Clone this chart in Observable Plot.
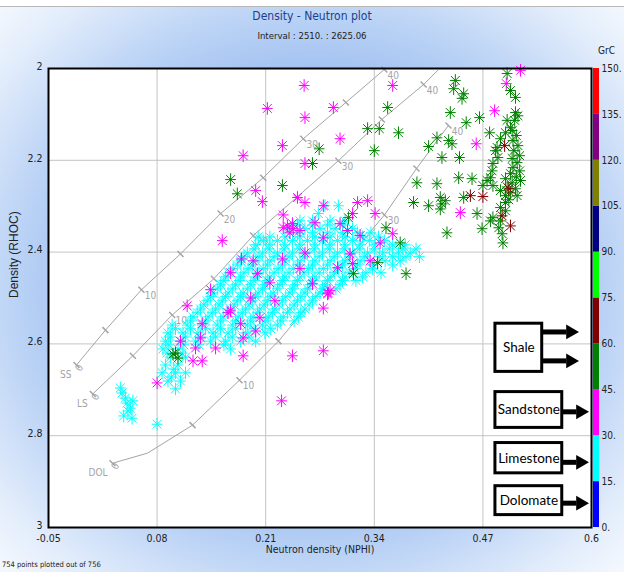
<!DOCTYPE html>
<html><head><meta charset="utf-8">
<script src="https://cdn.jsdelivr.net/npm/d3@7"></script>
<script src="https://cdn.jsdelivr.net/npm/@observablehq/plot@0.6"></script>
<style>
html,body{margin:0;padding:0;}
body{width:624px;height:572px;overflow:hidden;
 font-family:"Liberation Sans Narrow","DejaVu Sans Condensed","Liberation Sans",sans-serif;
 background: radial-gradient(ellipse at 50% 50%, #8fb3ee 0%, #9fbff1 50%, #b8d1f5 66%, #e0ebfb 86%, #f5f9fe 100%);}
#page{position:relative;width:624px;height:572px;}
.abs{position:absolute;white-space:nowrap;}
</style></head><body>
<div id="page">
 <div class="abs" style="left:0;top:0;width:624px;height:6px;background:#fff;border-bottom:1px solid #b8b8b8"></div>
 <div class="abs" style="left:0;width:624px;top:9px;text-align:center;font-size:12px;color:#1b3f8f">Density - Neutron plot</div>
 <div class="abs" style="left:0;width:624px;top:30px;text-align:center;font-size:9.5px;color:#222">Interval : 2510. : 2625.06</div>
 <div class="abs" style="left:598px;top:45px;font-size:10px;color:#222">GrC</div>
 <div id="main" class="abs" style="left:0;top:0"></div>
 <div id="bar" class="abs" style="left:590px;top:0"></div>
 <div class="abs" style="left:2px;top:560px;font-size:7.5px;color:#222">754 points plotted out of 756</div>
</div>
<script>
const FONT = '"Liberation Sans Narrow","DejaVu Sans Condensed","Liberation Sans",sans-serif';

// axes
const nphiTicks = [-0.05, 0.08, 0.21, 0.34, 0.47, 0.6];
const nphiTickLabels = ["-0.05", "0.08", "0.21", "0.34", "0.47", "0.6"];
const rhocTicks = [2, 2.2, 2.4, 2.6, 2.8, 3];
const rhocTickLabels = ["2", "2.2", "2.4", "2.6", "2.8", "3"];

// GrC colour bar
const grcBreaks = [0, 15, 30, 45, 60, 75, 90, 105, 120, 135, 150];
const grcColors = ["#0000ff", "#00ffff", "#ff00ff", "#008000", "#800000",
                   "#00ff00", "#000080", "#808000", "#800080", "#ff0000"];

// points [NPHI, RHOC] grouped by GrC band
const grc15to30 = [
 [0.281,2.299],[0.297,2.299],[0.273,2.316],
 [0.251,2.332],[0.266,2.332],[0.287,2.332],[0.305,2.332],
 [0.239,2.349],[0.257,2.349],[0.275,2.349],[0.293,2.349],[0.314,2.349],
 [0.201,2.367],[0.215,2.367],[0.233,2.367],[0.251,2.367],[0.269,2.367],[0.287,2.367],[0.305,2.367],[0.326,2.367],[0.345,2.367],
 [0.198,2.384],[0.215,2.384],[0.233,2.384],[0.251,2.384],[0.269,2.384],[0.287,2.384],[0.305,2.384],[0.323,2.384],[0.341,2.384],[0.362,2.384],[0.377,2.384],
 [0.188,2.402],[0.206,2.402],[0.224,2.402],[0.242,2.402],[0.260,2.402],[0.278,2.402],[0.296,2.402],[0.314,2.402],[0.332,2.402],[0.350,2.402],[0.369,2.402],[0.383,2.402],
 [0.180,2.419],[0.198,2.419],[0.215,2.419],[0.233,2.419],[0.251,2.419],[0.269,2.419],[0.287,2.419],[0.305,2.419],[0.323,2.419],[0.353,2.419],[0.371,2.419],
 [0.171,2.436],[0.189,2.436],[0.207,2.436],[0.225,2.436],[0.243,2.436],[0.261,2.436],[0.279,2.436],[0.297,2.436],[0.317,2.436],[0.338,2.436],
 [0.162,2.454],[0.180,2.454],[0.198,2.454],[0.215,2.454],[0.233,2.454],[0.251,2.454],[0.269,2.454],[0.287,2.454],[0.305,2.454],[0.326,2.454],
 [0.156,2.471],[0.174,2.471],[0.192,2.471],[0.209,2.471],[0.227,2.471],[0.245,2.471],[0.263,2.471],[0.281,2.471],[0.299,2.471],
 [0.147,2.489],[0.165,2.489],[0.183,2.489],[0.201,2.489],[0.219,2.489],[0.239,2.489],[0.257,2.489],[0.275,2.489],
 [0.140,2.506],[0.158,2.506],[0.176,2.506],[0.194,2.506],[0.212,2.506],[0.230,2.506],[0.248,2.506],[0.266,2.506],
 [0.132,2.524],[0.150,2.524],[0.168,2.524],[0.186,2.524],[0.203,2.524],[0.221,2.524],[0.239,2.524],[0.257,2.524],
 [0.123,2.541],[0.141,2.541],[0.159,2.541],[0.177,2.541],[0.195,2.541],[0.213,2.541],[0.231,2.541],[0.249,2.541],
 [0.098,2.559],[0.116,2.559],[0.134,2.559],[0.152,2.559],[0.170,2.559],[0.188,2.559],[0.206,2.559],[0.224,2.559],
 [0.093,2.576],[0.111,2.576],[0.129,2.576],[0.147,2.576],[0.165,2.576],[0.186,2.576],[0.209,2.576],
 [0.090,2.594],[0.108,2.594],[0.126,2.594],[0.144,2.594],[0.162,2.594],[0.180,2.594],[0.198,2.594],
 [0.087,2.611],[0.105,2.611],[0.168,2.611],
 [0.096,2.629],[0.114,2.629],[0.090,2.646],[0.105,2.646],
 [0.086,2.663],[0.102,2.663],[0.114,2.663],[0.093,2.681],[0.108,2.681],[0.102,2.698],
 [0.036,2.696],[0.038,2.707],[0.042,2.718],[0.044,2.729],[0.048,2.740],[0.040,2.757],[0.050,2.762],[0.045,2.746],[0.051,2.724],[0.080,2.775],
 // denser core of the cluster
 [0.248,2.341],[0.266,2.341],[0.284,2.341],[0.302,2.341],
 [0.248,2.358],[0.266,2.358],[0.284,2.358],[0.302,2.358],[0.320,2.358],[0.336,2.358],
 [0.207,2.375],[0.224,2.375],[0.242,2.375],[0.260,2.375],[0.278,2.375],[0.296,2.375],[0.314,2.375],[0.334,2.375],[0.352,2.375],
 [0.196,2.393],[0.214,2.393],[0.232,2.393],[0.250,2.393],[0.268,2.393],[0.286,2.393],[0.304,2.393],[0.322,2.393],[0.340,2.393],[0.358,2.393],[0.374,2.393],[0.390,2.393],
 [0.184,2.410],[0.202,2.410],[0.220,2.410],[0.238,2.410],[0.256,2.410],[0.274,2.410],[0.292,2.410],[0.310,2.410],[0.328,2.410],[0.346,2.410],[0.362,2.410],[0.378,2.410],[0.394,2.410],
 [0.176,2.428],[0.194,2.428],[0.212,2.428],[0.230,2.428],[0.248,2.428],[0.266,2.428],[0.284,2.428],[0.302,2.428],[0.320,2.428],[0.338,2.428],[0.362,2.428],
 [0.166,2.445],[0.184,2.445],[0.202,2.445],[0.220,2.445],[0.238,2.445],[0.256,2.445],[0.274,2.445],[0.292,2.445],[0.310,2.445],[0.330,2.445],[0.348,2.445],
 [0.160,2.462],[0.178,2.462],[0.196,2.462],[0.212,2.462],[0.230,2.462],[0.248,2.462],[0.266,2.462],[0.284,2.462],[0.302,2.462],[0.318,2.462],
 [0.152,2.480],[0.170,2.480],[0.188,2.480],[0.206,2.480],[0.224,2.480],[0.242,2.480],[0.260,2.480],[0.278,2.480],[0.294,2.480],
 [0.144,2.497],[0.162,2.497],[0.180,2.497],[0.198,2.497],[0.216,2.497],[0.234,2.497],[0.252,2.497],[0.270,2.497],
 [0.136,2.515],[0.154,2.515],[0.172,2.515],[0.190,2.515],[0.208,2.515],[0.226,2.515],[0.244,2.515],[0.262,2.515],
 [0.128,2.532],[0.146,2.532],[0.164,2.532],[0.182,2.532],[0.200,2.532],[0.218,2.532],[0.236,2.532],[0.252,2.532],
 [0.120,2.550],[0.138,2.550],[0.156,2.550],[0.174,2.550],[0.192,2.550],[0.210,2.550],[0.228,2.550],[0.244,2.550],
 [0.102,2.567],[0.120,2.567],[0.138,2.567],[0.156,2.567],[0.174,2.567],[0.196,2.567],[0.216,2.567],
 [0.096,2.585],[0.114,2.585],[0.132,2.585],[0.150,2.585],[0.170,2.585],[0.190,2.585],
 [0.094,2.602],[0.112,2.602],[0.130,2.602],[0.160,2.602],
 [0.092,2.620],[0.110,2.620],[0.100,2.655],[0.097,2.672]
];
const grc30to45 = [
 [0.256,2.037],[0.212,2.087],[0.257,2.107],[0.291,2.085],[0.230,2.168],[0.183,2.190],[0.257,2.207],[0.198,2.266],
 [0.206,2.290],[0.248,2.281],[0.257,2.292],[0.279,2.299],[0.231,2.319],[0.158,2.375],[0.181,2.415],[0.144,2.482],
 [0.236,2.343],[0.239,2.358],[0.243,2.349],[0.251,2.353],[0.299,2.153],[0.362,2.037],[0.515,2.004],[0.498,2.033],
 [0.484,2.092],[0.462,2.164],[0.443,2.314],[0.320,2.292],[0.332,2.288],[0.341,2.316],[0.362,2.360],[0.347,2.380],
 [0.335,2.419],[0.285,2.489],[0.314,2.316],[0.269,2.336],[0.299,2.338],[0.308,2.353],[0.323,2.364],[0.279,2.369],
 [0.311,2.404],[0.296,2.434],[0.314,2.425],[0.257,2.402],[0.287,2.484],[0.242,2.338],[0.195,2.419],[0.230,2.415],
 [0.200,2.447],[0.116,2.517],[0.192,2.500],[0.168,2.528],[0.203,2.543],[0.165,2.532],[0.180,2.556],[0.198,2.572],
 [0.183,2.587],[0.150,2.609],[0.123,2.637],[0.134,2.637],[0.183,2.626],[0.242,2.626],[0.279,2.615],[0.229,2.724],
 [0.080,2.685],[0.279,2.522],[0.284,2.491],[0.134,2.556],[0.126,2.609],[0.108,2.594],[0.132,2.587],[0.231,2.347],
 [0.215,2.467],[0.251,2.436],[0.266,2.469],[0.168,2.445],[0.221,2.506]
];
const grc45to60 = [
 [0.274,2.175],[0.266,2.207],[0.168,2.242],[0.176,2.273],[0.230,2.255],[0.356,2.085],[0.332,2.131],[0.346,2.131],
 [0.369,2.140],[0.340,2.179],[0.437,2.026],[0.435,2.044],[0.447,2.055],[0.445,2.065],[0.431,2.096],[0.450,2.118],
 [0.466,2.107],[0.415,2.151],[0.405,2.170],[0.429,2.157],[0.433,2.164],[0.421,2.194],[0.442,2.194],[0.478,2.140],
 [0.391,2.249],[0.415,2.251],[0.441,2.238],[0.457,2.240],[0.387,2.292],[0.405,2.299],[0.419,2.281],[0.421,2.295],
 [0.419,2.306],[0.447,2.281],[0.463,2.316],[0.427,2.358],[0.469,2.349],[0.354,2.347],[0.371,2.380],[0.378,2.447],
 [0.315,2.447],[0.309,2.325],[0.344,2.423],[0.425,2.288],[0.099,2.622],[0.105,2.631],[0.102,2.620],
 [0.499,2.011],[0.503,2.048],[0.509,2.063],[0.509,2.096],[0.499,2.113],[0.503,2.129],[0.497,2.140],[0.491,2.153],
 [0.487,2.172],[0.485,2.179],[0.488,2.194],[0.482,2.207],[0.481,2.223],[0.479,2.238],[0.475,2.244],[0.470,2.255],
 [0.482,2.255],[0.505,2.135],[0.510,2.146],[0.506,2.157],[0.512,2.168],[0.507,2.179],[0.514,2.190],[0.505,2.196],
 [0.511,2.205],[0.506,2.216],[0.514,2.223],[0.503,2.229],[0.510,2.236],[0.515,2.244],[0.505,2.249],[0.499,2.258],
 [0.509,2.262],[0.503,2.271],[0.497,2.277],[0.511,2.277],[0.501,2.286],[0.508,2.113],[0.512,2.103],[0.497,2.240],
 [0.491,2.266],[0.497,2.292],[0.491,2.303],[0.491,2.332],[0.489,2.347],[0.479,2.332],[0.482,2.325],[0.493,2.360],
 [0.494,2.380],[0.497,2.310]
];
const grc60to75 = [
 [0.496,2.168],[0.470,2.279],[0.501,2.262],[0.493,2.321],[0.503,2.343],[0.455,2.277]
];
const bandGrc = {grc15to30: 22, grc30to45: 37, grc45to60: 52, grc60to75: 67};

// porosity overlay lines [NPHI, RHOC, porosity %]
const ssLine = [[-0.0165,2.646,0],[0.0182,2.570,5],[0.0613,2.482,10],[0.108,2.404,15],[0.156,2.316,20],
                [0.207,2.238,25],[0.255,2.153,30],[0.306,2.074,35],[0.352,2.002,40]];
const lsLine = [[0.003,2.709,0],[0.051,2.626,5],[0.098,2.537,10],[0.148,2.458,15],[0.195,2.364,20],
                [0.247,2.281,25],[0.297,2.201,30],[0.349,2.111,35],[0.399,2.035,40],[0.416,2.004,null]];
const dolLine = [[0.0266,2.860,0],[0.0685,2.838,null],[0.1224,2.777,5],[0.1786,2.679,10],[0.2253,2.594,15],
                 [0.3522,2.319,30],[0.3905,2.218,35],[0.4288,2.124,40]];

// annotation boxes and arrows
const lithoLabels = ["Shale", "Sandstone", "Limestone", "Dolomate"];
const lithoBoxX = [[0.485,0.541],[0.485,0.565],[0.485,0.565],[0.485,0.565]];
const lithoBoxY = [[2.556,2.661],[2.705,2.783],[2.816,2.882],[2.910,2.973]];
const arrowY = [2.574, 2.637, 2.748, 2.858, 2.947];
const arrowX = [[0.541,0.570],[0.541,0.570],[0.565,0.582],[0.565,0.582],[0.565,0.582]];

// ---------- build tables ----------
const points = [];
for (const [name, arr] of [["grc15to30",grc15to30],["grc30to45",grc30to45],["grc45to60",grc45to60],["grc60to75",grc60to75]])
  for (const [nphi, rhoc] of arr) points.push({nphi, rhoc, grc: bandGrc[name]});

const porosity = [];
for (const [lith, arr] of [["SS",ssLine],["LS",lsLine],["DOL",dolLine]])
  for (const [nphi, rhoc, por] of arr) porosity.push({lith, nphi, rhoc, por});

const boxes = lithoLabels.map((label,i) => ({label, x1: lithoBoxX[i][0], x2: lithoBoxX[i][1], y1: lithoBoxY[i][0], y2: lithoBoxY[i][1]}));
const arrows = arrowY.map((y,i) => ({y, x1: arrowX[i][0], x2: arrowX[i][1]}));

const nphiLabel = new Map(nphiTicks.map((t,i) => [t, nphiTickLabels[i]]));
const rhocLabel = new Map(rhocTicks.map((t,i) => [t, rhocTickLabels[i]]));

const colorScale = {type: "threshold", domain: grcBreaks.slice(1, -1), range: grcColors};

const asterisk = {draw(ctx, size) {
  const r = Math.sqrt(size / Math.PI), h = r * 0.85, d = r * 0.7;
  ctx.moveTo(0, -r); ctx.lineTo(0, r);
  ctx.moveTo(-h, 0); ctx.lineTo(h, 0);
  ctx.moveTo(-d, -d); ctx.lineTo(d, d);
  ctx.moveTo(-d, d); ctx.lineTo(d, -d);
}};
const porTick = {draw(ctx) { ctx.moveTo(-3, -3); ctx.lineTo(3, 3); }};
const GRAY = "#a4a4a4";

const chart = Plot.plot({
  width: 624, height: 572,
  marginTop: 68, marginRight: 33, marginBottom: 45, marginLeft: 48,
  style: {background: "transparent", fontFamily: FONT, fontSize: "11px", color: "#222", overflow: "visible"},
  x: {domain: [-0.05, 0.6]},
  y: {domain: [2, 3], reverse: true},
  color: colorScale,
  marks: [
    Plot.frame({fill: "white", stroke: "none"}),
    Plot.gridX(nphiTicks.slice(1, -1), {stroke: "#c4c4c4", strokeOpacity: 1}),
    Plot.gridY(rhocTicks.slice(1, -1), {stroke: "#c4c4c4", strokeOpacity: 1}),
    Plot.line(porosity, {x: "nphi", y: "rhoc", z: "lith", stroke: GRAY, strokeWidth: 1}),
    Plot.dot(porosity.filter(d => d.por != null), {x: "nphi", y: "rhoc", symbol: porTick, r: 3, stroke: GRAY, fill: "none"}),
    Plot.text(porosity.filter(d => d.por > 0 && d.por % 10 === 0), {x: "nphi", y: "rhoc", text: d => String(d.por), dx: 9, dy: 6, fill: GRAY, fontSize: 10}),
    Plot.text(porosity.filter(d => d.por === 0), {x: "nphi", y: "rhoc", text: () => "0", dx: 3, dy: 3, rotate: -60, fill: GRAY, fontSize: 10}),
    Plot.text(porosity.filter(d => d.por === 0), {x: "nphi", y: "rhoc", text: "lith", dx: -5, dy: 10, textAnchor: "end", fill: GRAY, fontSize: 10}),
    Plot.dot(points, {x: "nphi", y: "rhoc", stroke: "grc", symbol: asterisk, r: 6.3, strokeWidth: 1, fill: "none"}),
    Plot.rect(boxes, {x1: "x1", x2: "x2", y1: "y1", y2: "y2", fill: "white", stroke: "black", strokeWidth: 3}),
    Plot.text(boxes, {x: d => (d.x1 + d.x2) / 2, y: d => (d.y1 + d.y2) / 2, text: "label", fontSize: 13.5, fontFamily: "Lato", fill: "black"}),
    Plot.link(arrows, {x1: "x1", x2: "x2", y1: "y", y2: "y", stroke: "black", strokeWidth: 5}),
    Plot.dot(arrows, {x: "x2", y: "y", symbol: "triangle", rotate: 90, r: 5.5, fill: "black", stroke: "none", dx: 4}),
    Plot.frame({stroke: "black", strokeWidth: 2}),
    Plot.axisX(nphiTicks, {tickSize: 0, tickPadding: 7, tickFormat: d => nphiLabel.get(d), label: null, fontSize: 10.5}),
    Plot.axisY(rhocTicks, {tickSize: 0, tickPadding: 6, dy: -2, tickFormat: d => rhocLabel.get(d), label: null, fontSize: 10.5}),
    Plot.text(["Neutron density (NPHI)"], {text: d => d, frameAnchor: "bottom", dy: 25, fontSize: 10.5}),
    Plot.text(["Density (RHOC)"], {text: d => d, frameAnchor: "left", dx: -34, rotate: -90, fontSize: 12, fontFamily: "Liberation Sans"})
  ]
});
document.getElementById("main").append(chart);

const bands = grcBreaks.slice(0, -1).map((lo, i) => ({lo, hi: grcBreaks[i + 1]}));
const bar = Plot.plot({
  width: 34, height: 572,
  marginTop: 68, marginBottom: 45, marginLeft: 3, marginRight: 25,
  style: {background: "transparent", fontFamily: FONT, fontSize: "10px", color: "#222", overflow: "visible"},
  x: {domain: [0, 1], axis: null},
  y: {domain: [0, 150]},
  color: colorScale,
  marks: [
    Plot.rect(bands, {x1: () => 0, x2: () => 1, y1: "lo", y2: "hi", fill: "lo"}),
    Plot.axisY(grcBreaks, {anchor: "right", tickSize: 0, tickPadding: 2, tickFormat: d => `${d}.`, label: null, fontSize: 10})
  ]
});
document.getElementById("bar").append(bar);
</script>
</body></html>
